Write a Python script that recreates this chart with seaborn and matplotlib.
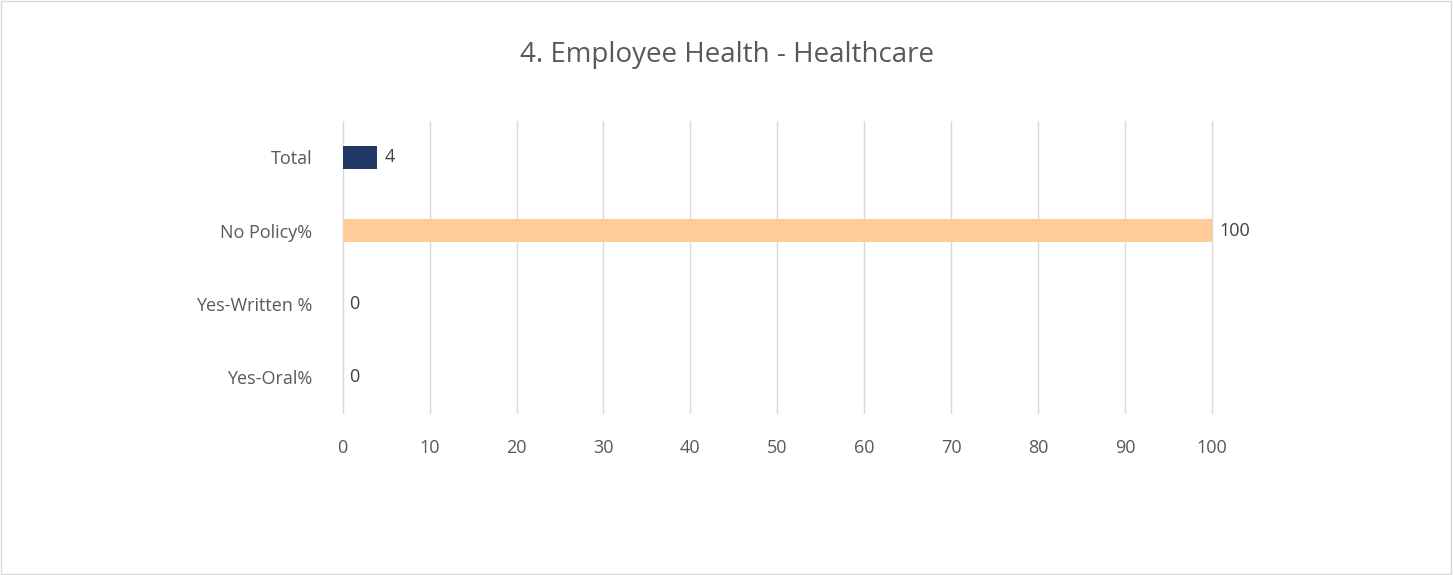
import matplotlib
matplotlib.use("Agg")
import matplotlib.pyplot as plt
from matplotlib.patches import Rectangle
import seaborn as sns
import pandas as pd

categories = ["Total", "No Policy%", "Yes-Written %", "Yes-Oral%"]
values = [4, 100, 0, 0]
bar_colors = ["#203864", "#FFCC99", "#203864", "#203864"]
x_ticks = [0, 10, 20, 30, 40, 50, 60, 70, 80, 90, 100]
title = "4. Employee Health - Healthcare"

sns.set_theme(style="white")
plt.rcParams["font.family"] = ["Open Sans", "DejaVu Sans"]

df = pd.DataFrame({"category": categories, "value": values})

fig = plt.figure(figsize=(14.53, 5.75), dpi=100)
ax = fig.add_axes([0.234, 0.28, 0.602, 0.51])

sns.barplot(data=df, y="category", x="value", hue="category",
            palette=dict(zip(categories, bar_colors)), order=categories,
            hue_order=categories, legend=False, width=0.32, ax=ax,
            saturation=1, edgecolor="none")

ax.set_xlim(-0.3, 100.3)
ax.set_xticks(x_ticks)
ax.set_xticklabels([str(t) for t in x_ticks])
ax.grid(axis="x", color="#D9D9D9", linewidth=1.0)
ax.set_axisbelow(True)
for s in ax.spines.values():
    s.set_visible(False)
ax.set_xlabel("")
ax.set_ylabel("")
ax.tick_params(axis="both", length=0, labelsize=13, colors="#595959")
ax.tick_params(axis="y", pad=20)
ax.tick_params(axis="x", pad=18)

for i, v in enumerate(values):
    ax.text(v + 0.8, i, str(v), va="center", ha="left", fontsize=13, color="#404040")

fig.text(0.5, 0.905, title, ha="center", va="center", fontsize=20, color="#595959")
fig.patches.append(Rectangle((0.0005, 0.001), 0.998, 0.997, transform=fig.transFigure,
                             fill=False, edgecolor="#D9D9D9", linewidth=1))

fig.savefig("out.png", dpi=100, facecolor="white")
